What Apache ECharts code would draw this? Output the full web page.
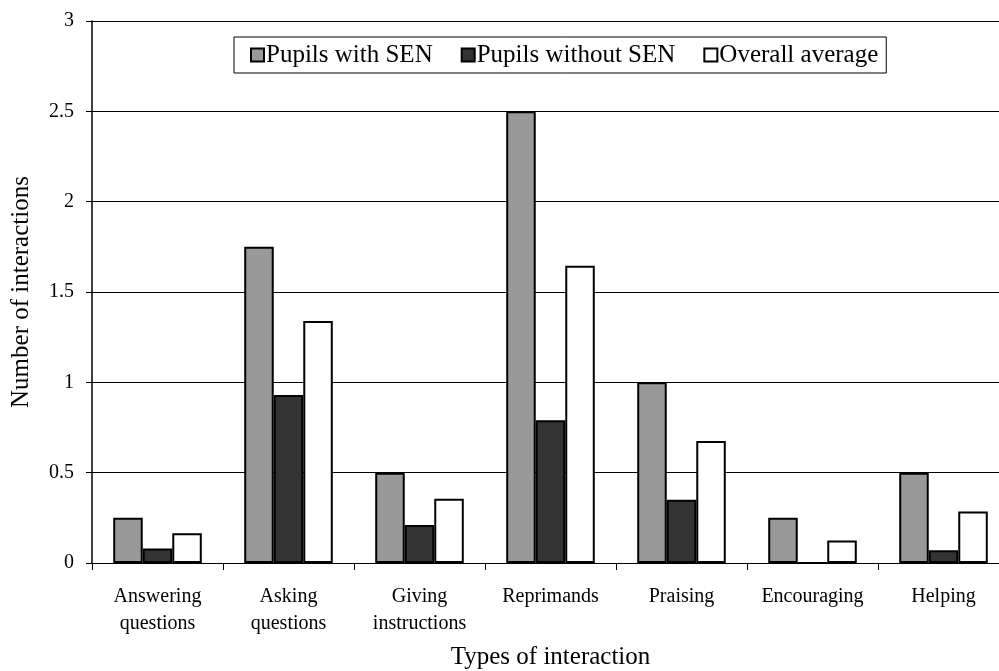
<!DOCTYPE html>
<html>
<head>
<meta charset="utf-8">
<script src="https://cdn.jsdelivr.net/npm/echarts@6/dist/echarts.min.js"></script>
<style>
    html, body { margin: 0; padding: 0; background: #fff; }
    #chart { width: 999px; height: 671px; }
</style>
</head>
<body>
<div id="chart"></div>
<script>
const categories = ['Answering\nquestions', 'Asking\nquestions', 'Giving\ninstructions', 'Reprimands', 'Praising', 'Encouraging', 'Helping']
const withSEN = [0.25, 1.75, 0.5, 2.5, 1.0, 0.25, 0.5]
const withoutSEN = [0.08, 0.93, 0.21, 0.79, 0.35, 0, 0.07]
const overall = [0.165, 1.34, 0.355, 1.645, 0.675, 0.125, 0.285]
const yTicks = [0, 0.5, 1, 1.5, 2, 2.5, 3]

const font = '"Liberation Serif", "Times New Roman", serif'
const chart = echarts.init(document.getElementById('chart'))

const bar = (name, data, color) => ({
    name,
    type: 'bar',
    data,
    barGap: '0%',
    barCategoryGap: '32.4%',
    itemStyle: { color, borderColor: '#000', borderWidth: 2 }
})

chart.setOption({
    animation: false,
    textStyle: { fontFamily: font, color: '#000' },
    // plot runs a little past the right edge, like the original
    grid: { left: 92, top: 21, right: -10, bottom: 108, containLabel: false, outerBoundsMode: 'none' },
    legend: {
        left: 234,
        top: 37,
        icon: 'rect',
        itemWidth: 13,
        itemHeight: 13,
        itemGap: 28,
        padding: [5, 8, 5, 16],
        borderColor: '#000',
        borderWidth: 1,
        backgroundColor: '#fff',
        textStyle: { fontFamily: font, fontSize: 25, lineHeight: 26, color: '#000', padding: [0, 0, 0, -3] }
    },
    xAxis: {
        type: 'category',
        data: categories,
        name: 'Types of interaction',
        nameLocation: 'middle',
        nameGap: 82,
        nameTextStyle: { fontFamily: font, fontSize: 25, color: '#000' },
        axisLine: { lineStyle: { color: '#000', width: 1 } },
        axisTick: { show: true, length: 7, lineStyle: { color: '#000' } },
        axisLabel: { fontFamily: font, fontSize: 20, color: '#000', lineHeight: 27, margin: 20, interval: 0 }
    },
    yAxis: {
        type: 'value',
        min: 0,
        max: yTicks[yTicks.length - 1],
        interval: 0.5,
        name: 'Number of interactions',
        nameLocation: 'middle',
        nameGap: 58,
        nameTextStyle: { fontFamily: font, fontSize: 25, color: '#000' },
        axisLine: { show: true, lineStyle: { color: '#000', width: 1.5 } },
        axisTick: { show: true, length: 6, lineStyle: { color: '#000' } },
        axisLabel: { fontFamily: font, fontSize: 20, color: '#000', margin: 18 },
        splitLine: { show: true, lineStyle: { color: '#000', width: 1 } }
    },
    series: [
        bar('Pupils with SEN', withSEN, '#999999'),
        bar('Pupils without SEN', withoutSEN, '#333333'),
        bar('Overall average', overall, '#ffffff')
    ]
})
</script>
</body>
</html>
